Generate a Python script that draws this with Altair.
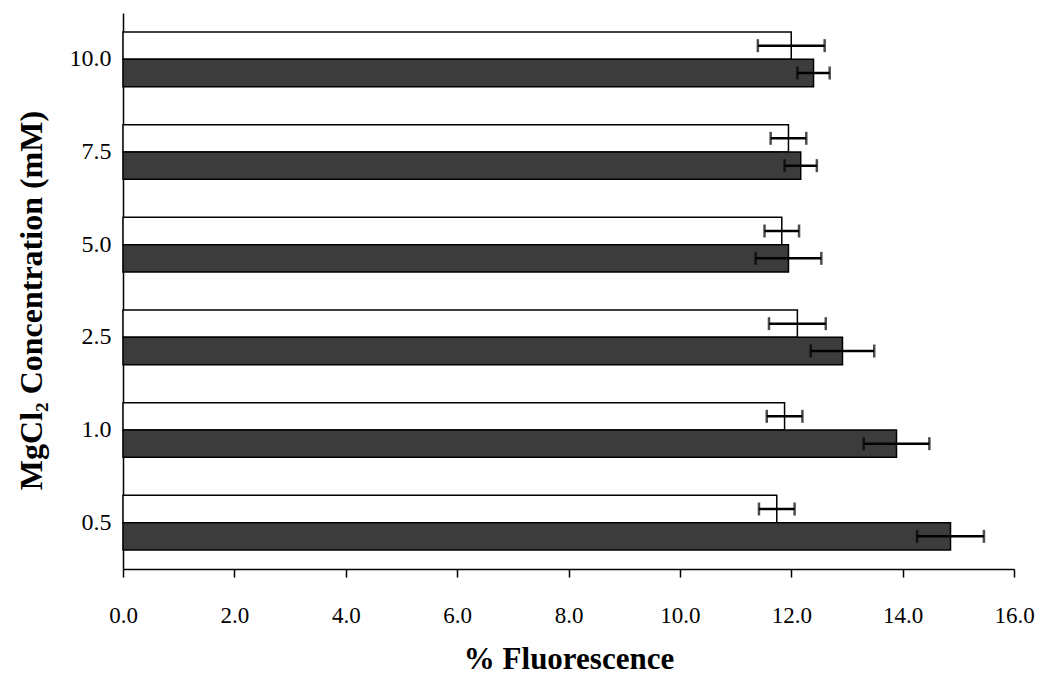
import altair as alt
import pandas as pd

# Categories, top to bottom
concentrations = ["10.0", "7.5", "5.0", "2.5", "1.0", "0.5"]
series = ["open", "filled"]

open_values = [12.00, 11.95, 11.83, 12.11, 11.88, 11.74]
open_errors = [0.60, 0.32, 0.31, 0.51, 0.32, 0.32]
filled_values = [12.40, 12.17, 11.95, 12.92, 13.89, 14.86]
filled_errors = [0.29, 0.29, 0.59, 0.57, 0.59, 0.60]

x_ticks = [0, 2, 4, 6, 8, 10, 12, 14, 16]

rows = []
for i, c in enumerate(concentrations):
    rows.append({"conc": c, "series": "open", "value": open_values[i],
                 "lo": open_values[i] - open_errors[i], "hi": open_values[i] + open_errors[i]})
    rows.append({"conc": c, "series": "filled", "value": filled_values[i],
                 "lo": filled_values[i] - filled_errors[i], "hi": filled_values[i] + filled_errors[i]})
df = pd.DataFrame(rows)

FONT = "Liberation Serif"

y_enc = alt.Y(
    "conc:N",
    sort=concentrations,
    scale=alt.Scale(paddingInner=0.41, paddingOuter=0.205),
    axis=alt.Axis(
        title="MgCl₂ Concentration (mM)",
        ticks=False,
        tickSize=0,
        labelPadding=12,
        labelFont=FONT,
        labelFontSize=24,
        labelColor="black",
        domainColor="black",
        domainWidth=1.5,
        titleFont=FONT,
        titleFontSize=32,
        titleFontWeight="bold",
        titleColor="black",
        titleAngle=270,
        titleX=-92,
        titleY=287,
        titleAlign="center",
        titleBaseline="middle",
    ),
)
yoff_enc = alt.YOffset("series:N", sort=series,
                       scale=alt.Scale(paddingInner=0, paddingOuter=0))

x_scale = alt.Scale(domain=[0, 16], nice=False, zero=True)

bars = alt.Chart(df).mark_bar(stroke="black", strokeWidth=1.5).encode(
    x=alt.X(
        "value:Q",
        scale=x_scale,
        axis=alt.Axis(
            title="% Fluorescence",
            values=x_ticks,
            format=".1f",
            grid=False,
            labelFlush=False,
            tickSize=8,
            tickColor="black",
            tickWidth=1.5,
            domainColor="black",
            domainWidth=1.5,
            labelPadding=27,
            labelFont=FONT,
            labelFontSize=23,
            labelColor="black",
            titleFont=FONT,
            titleFontSize=31,
            titleFontWeight="bold",
            titleColor="black",
            titleY=90,
            titleBaseline="middle",
        ),
    ),
    y=y_enc,
    yOffset=yoff_enc,
    color=alt.Color("series:N", scale=alt.Scale(domain=series, range=["#ffffff", "#3c3c3c"]), legend=None),
)

err_rule = alt.Chart(df).mark_rule(color="black", strokeWidth=2.5).encode(
    x=alt.X("lo:Q", scale=x_scale),
    x2="hi:Q",
    y=y_enc,
    yOffset=yoff_enc,
)

cap_lo = alt.Chart(df).mark_tick(color="black", thickness=2.5, size=13).encode(
    x=alt.X("lo:Q", scale=x_scale),
    y=y_enc,
    yOffset=yoff_enc,
)
cap_hi = alt.Chart(df).mark_tick(color="black", thickness=2.5, size=13).encode(
    x=alt.X("hi:Q", scale=x_scale),
    y=y_enc,
    yOffset=yoff_enc,
)

chart = alt.layer(bars, err_rule, cap_lo, cap_hi).properties(
    width=891,
    height=556,
    autosize=alt.AutoSizeParams(type="none"),
    padding={"left": 115, "top": 5, "right": 21, "bottom": 105},
    background="white",
).configure_view(stroke=None)

chart.save("out.html", embed_options={"renderer": "svg", "actions": False})
